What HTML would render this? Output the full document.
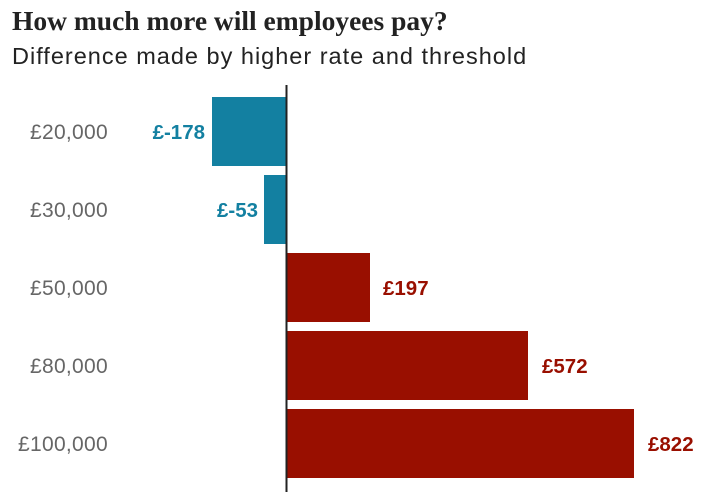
<!DOCTYPE html>
<html><head><style>
html,body{margin:0;padding:0;background:#fff;}
svg{display:block;}
</style></head><body>
<svg width="706" height="494" xmlns="http://www.w3.org/2000/svg">
<text x="12" y="30" font-family="Liberation Serif, serif" font-weight="bold" font-size="27.5" fill="#222">How much more will employees pay?</text>
<text x="12" y="64" font-family="Liberation Sans, sans-serif" font-size="23.5" letter-spacing="1" fill="#222">Difference made by higher rate and threshold</text>
<g font-family="Liberation Sans, sans-serif" font-size="21" fill="#666" text-anchor="end" letter-spacing="0.3">
<text x="108" y="139">£20,000</text>
<text x="108" y="217">£30,000</text>
<text x="108" y="295">£50,000</text>
<text x="108" y="373">£80,000</text>
<text x="108" y="451">£100,000</text>
</g>
<rect x="212" y="97" width="75" height="69" fill="#1380A1"/>
<rect x="264" y="175" width="23" height="69" fill="#1380A1"/>
<rect x="287" y="253" width="83" height="69" fill="#990F00"/>
<rect x="287" y="331" width="241" height="69" fill="#990F00"/>
<rect x="287" y="409" width="347" height="69" fill="#990F00"/>
<line x1="286.5" y1="85" x2="286.5" y2="492" stroke="#222" stroke-width="2"/>
<g font-family="Liberation Sans, sans-serif" font-size="20.5" font-weight="bold">
<text x="205" y="139" fill="#1380A1" text-anchor="end">£-178</text>
<text x="258" y="217" fill="#1380A1" text-anchor="end">£-53</text>
<text x="383" y="295" fill="#990F00">£197</text>
<text x="542" y="373" fill="#990F00">£572</text>
<text x="648" y="451" fill="#990F00">£822</text>
</g>
</svg>
</body></html>
